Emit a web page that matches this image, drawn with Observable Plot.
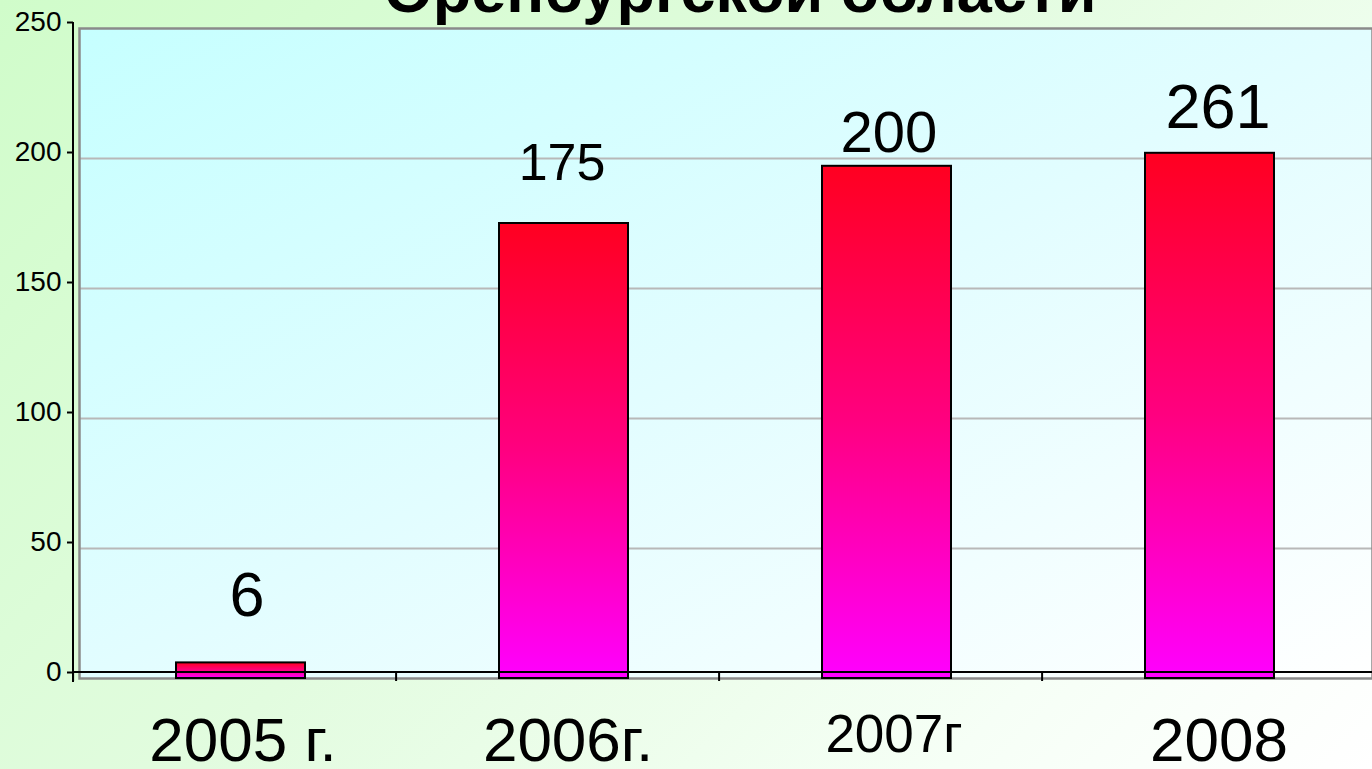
<!DOCTYPE html>
<html>
<head>
<meta charset="utf-8">
<script src="https://cdn.jsdelivr.net/npm/d3@7"></script>
<script src="https://cdn.jsdelivr.net/npm/@observablehq/plot@0.6"></script>
<style>
html, body { margin: 0; padding: 0; width: 1372px; height: 769px; overflow: hidden; }
body {
  position: relative;
  background: linear-gradient(135deg, #d0fcca 0%, #e2fcdf 45%, #f6fff6 80%, #ffffff 100%);
  font-family: "Liberation Sans", Arial, sans-serif;
}
#chart { position: absolute; left: 0; top: 0; }
#title {
  position: absolute; top: -41px; left: 0; width: 1480px;
  text-align: center; font-weight: bold; font-size: 63px; line-height: 62px;
  color: #000; white-space: nowrap;
}
</style>
</head>
<body>
<div id="chart"></div>
<div id="title">Оренбургской области</div>
<script>
// ---- data ----
const categories = ["2005 г.", "2006г.", "2007г", "2008"];
const barValues = [6, 175, 197, 202];
const valueLabels = ["6", "175", "200", "261"];
const yTicks = [0, 50, 100, 150, 200, 250];
const yDomain = [0, 250];

// ---- label styling (layout, not data) ----
const catFontSizes = [62, 62, 53, 62];
const catDy = [82, 82, 73, 82];
const catDx = [2, 4, 7, 9];
const valFontSizes = [63, 52, 58, 63];
const valDy = [-47, -44, -14, -25];
const valDx = [6, -2, 2, 8];

const table = categories.map((c, i) => ({cat: c, value: barValues[i], label: valueLabels[i]}));

// custom axis lines (vertical y-axis line, baseline ticks) computed from scales
function axisLines(index, scales, values, dims) {
  const g = d3.create("svg:g").attr("stroke", "black").attr("stroke-width", 2).attr("fill", "none");
  const off = 6;
  const x0 = dims.marginLeft - off;
  const yTop = scales.y(yDomain[1]) - off;
  const yBase = scales.y(0) - off;
  g.append("line").attr("x1", x0).attr("x2", x0).attr("y1", yTop).attr("y2", yBase + 10);
  const step = scales.x(categories[1]) - scales.x(categories[0]);
  const bw = step * 0.4;
  categories.forEach(c => {
    const bx = scales.x(c) - (step - bw) / 2 - off;
    g.append("line").attr("x1", bx).attr("x2", bx).attr("y1", yBase).attr("y2", yBase + 9);
  });
  g.append("line").attr("x1", x0).attr("x2", dims.width).attr("y1", yBase).attr("y2", yBase);
  return g.node();
}

const catMarks = categories.map((c, i) =>
  Plot.text([table[i]], {
    x: "cat", y: () => 0, text: "cat",
    fontSize: catFontSizes[i], dy: catDy[i], dx: catDx[i],
    lineAnchor: "bottom", textAnchor: "middle", fill: "black"
  })
);
const valMarks = table.map((d, i) =>
  Plot.text([d], {
    x: "cat", y: "value", text: "label",
    fontSize: valFontSizes[i], dy: valDy[i], dx: valDx[i],
    lineAnchor: "bottom", textAnchor: "middle", fill: "black"
  })
);

const plot = Plot.plot({
  width: 1372,
  height: 769,
  marginLeft: 79,
  marginRight: 0,
  marginTop: 28,
  marginBottom: 91,
  style: { background: "transparent", fontFamily: "Liberation Sans, Arial, sans-serif", overflow: "visible" },
  x: { domain: categories, paddingInner: 0.6, paddingOuter: 0.3, axis: null },
  y: { domain: yDomain, axis: null },
  marks: [
    Plot.frame({ fill: "url(#plotBg)", stroke: "none" }),
    Plot.gridY(yTicks.filter(t => t > 0 && t < 250), { stroke: "#b8b8b8", strokeOpacity: 1, strokeWidth: 2 }),
    Plot.frame({ stroke: "#8a8a8a", strokeWidth: 2.5 }),
    Plot.barY(table, { x: "cat", y: "value", fill: "url(#barGrad)", stroke: "black", strokeWidth: 2 }),
    axisLines,
    Plot.axisY({
      ticks: yTicks, anchor: "left", tickSize: 6, tickPadding: 6, fontSize: 28,
      dx: -6, dy: -6, stroke: "black", strokeWidth: 2, color: "black", label: null
    }),
    ...valMarks,
    ...catMarks
  ]
});

const svg = d3.select(plot);
const defs = svg.insert("defs", ":first-child");
const pg = defs.append("linearGradient").attr("id", "plotBg")
  .attr("x1", 0).attr("y1", 0).attr("x2", 1).attr("y2", 1);
pg.append("stop").attr("offset", 0).attr("stop-color", "#c6ffff");
pg.append("stop").attr("offset", 0.5).attr("stop-color", "#e2fdff");
pg.append("stop").attr("offset", 1).attr("stop-color", "#ffffff");
const bg = defs.append("linearGradient").attr("id", "barGrad")
  .attr("x1", 0).attr("y1", 0).attr("x2", 0).attr("y2", 1);
bg.append("stop").attr("offset", 0).attr("stop-color", "#ff0020");
bg.append("stop").attr("offset", 0.5).attr("stop-color", "#ff0080");
bg.append("stop").attr("offset", 1).attr("stop-color", "#ff00ff");

document.getElementById("chart").appendChild(plot);
</script>
</body>
</html>
